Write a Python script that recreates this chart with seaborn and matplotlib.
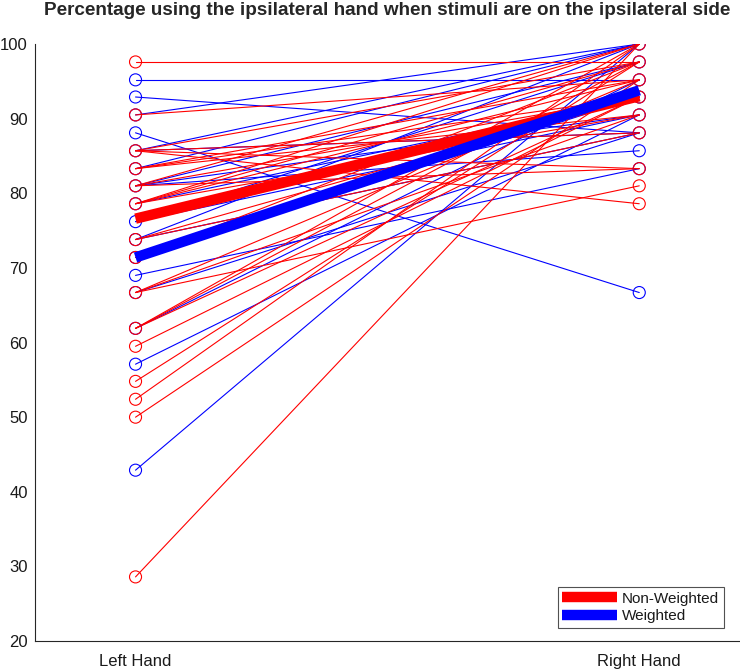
import matplotlib
matplotlib.use("Agg")
import matplotlib.pyplot as plt
import seaborn as sns
import pandas as pd
from matplotlib.lines import Line2D

# ---- data (percentages) ----
hands = ["Left Hand", "Right Hand"]

nonweighted_left = [97.6, 90.5, 85.7, 85.7, 85.7, 85.7, 83.3, 83.3, 83.3, 81.0, 81.0, 81.0,
                    78.6, 78.6, 78.6, 78.6, 73.8, 73.8, 71.4, 66.7, 66.7, 66.7, 61.9, 61.9,
                    61.9, 59.5, 54.8, 52.4, 50.0, 28.6]
nonweighted_right = [97.6, 95.2, 78.6, 83.3, 88.1, 97.6, 92.9, 90.5, 95.2, 83.3, 92.9, 100.0,
                     100.0, 97.6, 95.2, 90.5, 88.1, 92.9, 97.6, 90.5, 95.2, 81.0, 100.0, 97.6,
                     92.9, 92.9, 97.6, 100.0, 95.2, 100.0]

weighted_left = [95.2, 92.9, 90.5, 88.1, 85.7, 85.7, 83.3, 81.0, 81.0, 81.0, 78.6, 76.2,
                 76.2, 73.8, 73.8, 71.4, 69.0, 66.7, 61.9, 57.1, 42.9]
weighted_right = [95.2, 88.1, 100.0, 66.7, 100.0, 88.1, 100.0, 85.7, 97.6, 90.5, 92.9, 90.5,
                  97.6, 100.0, 88.1, 92.9, 83.3, 88.1, 95.2, 90.5, 100.0]

nonweighted_mean = [76.6, 93.0]
weighted_mean = [71.4, 93.8]

y_ticks = [20, 30, 40, 50, 60, 70, 80, 90, 100]


def long_df(left, right):
    rows = []
    for i, (a, b) in enumerate(zip(left, right)):
        rows.append({"subject": i, "x": 1, "value": a})
        rows.append({"subject": i, "x": 2, "value": b})
    return pd.DataFrame(rows)


sns.set_style("white")
plt.rcParams["font.family"] = ["Liberation Sans", "DejaVu Sans"]

fig = plt.figure(figsize=(7.4, 6.72), dpi=100)
ax = fig.add_axes([0.047, 0.046, 0.953, 0.8885])

RED = "#ff0000"
BLUE = "#0000ff"

df_w = long_df(weighted_left, weighted_right)
df_nw = long_df(nonweighted_left, nonweighted_right)

# individual subject lines: weighted first, then non-weighted on top
sns.lineplot(data=df_w, x="x", y="value", units="subject", estimator=None,
             color=BLUE, lw=0.8, ax=ax, legend=False)
sns.lineplot(data=df_nw, x="x", y="value", units="subject", estimator=None,
             color=RED, lw=0.8, ax=ax, legend=False)

# open circles at the distinct endpoints
pts_w = df_w[["x", "value"]].drop_duplicates()
pts_nw = df_nw[["x", "value"]].drop_duplicates()
sns.scatterplot(data=pts_w, x="x", y="value", s=75, marker="o",
                facecolor="none", edgecolor=BLUE, linewidth=0.8, ax=ax,
                legend=False, zorder=3)
sns.scatterplot(data=pts_nw, x="x", y="value", s=75, marker="o",
                facecolor="none", edgecolor=RED, linewidth=0.8, ax=ax,
                legend=False, zorder=3)

# mean lines
mean_nw = pd.DataFrame({"x": [1, 2], "value": nonweighted_mean})
mean_w = pd.DataFrame({"x": [1, 2], "value": weighted_mean})
sns.lineplot(data=mean_nw, x="x", y="value", color=RED, lw=7.5, ax=ax,
             legend=False, solid_capstyle="butt", zorder=4)
sns.lineplot(data=mean_w, x="x", y="value", color=BLUE, lw=7.5, ax=ax,
             legend=False, solid_capstyle="butt", zorder=4)

ax.set_xlim(0.8, 2.2)
ax.set_ylim(20, 100)
ax.set_xticks([1, 2])
ax.set_xticklabels(hands)
ax.set_yticks(y_ticks)
ax.set_xlabel("")
ax.set_ylabel("")

for s in ["top", "right"]:
    ax.spines[s].set_visible(False)
for s in ["left", "bottom"]:
    ax.spines[s].set_color("#262626")
    ax.spines[s].set_linewidth(0.8)

ax.tick_params(axis="both", direction="in", length=5, width=0.8, color="#262626",
               labelsize=12, labelcolor="#1a1a1a")
ax.tick_params(axis="x", pad=9)
ax.tick_params(axis="y", pad=5)

ax.set_title("Percentage using the ipsilateral hand when stimuli are on the ipsilateral side",
             fontsize=13.6, fontweight="bold", pad=21)

handles = [Line2D([0], [0], color=RED, lw=7.5, solid_capstyle="butt"),
           Line2D([0], [0], color=BLUE, lw=7.5, solid_capstyle="butt")]
leg = ax.legend(handles, ["Non-Weighted", "Weighted"], loc="lower right",
                bbox_to_anchor=(0.977, 0.022), borderaxespad=0, fontsize=11,
                frameon=True, fancybox=False, edgecolor="#262626", handlelength=3.6,
                handletextpad=0.3, borderpad=0.3, labelspacing=0.25)
leg.get_frame().set_linewidth(0.8)
for t in leg.get_texts():
    t.set_color("#1a1a1a")

fig.savefig("out.png", dpi=100)
